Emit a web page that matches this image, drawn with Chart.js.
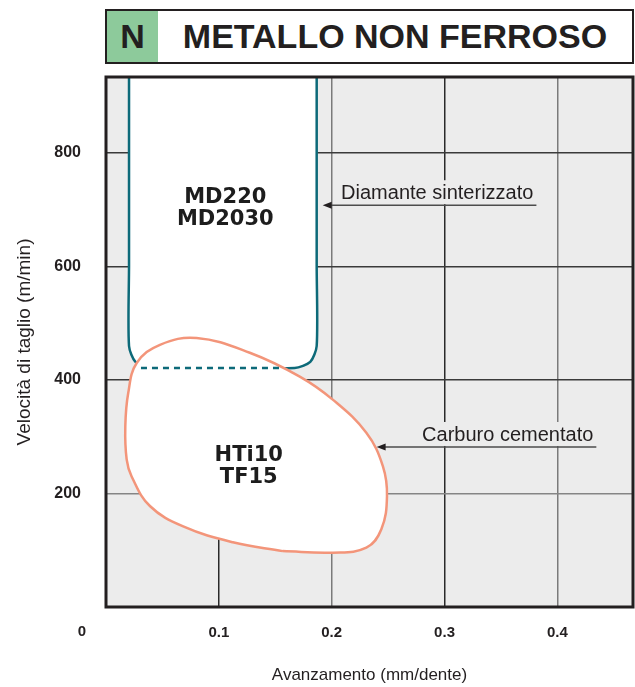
<!DOCTYPE html>
<html>
<head>
<meta charset="utf-8">
<script src="https://cdn.jsdelivr.net/npm/chart.js@4"></script>
<style>
  body { margin: 0; background: #ffffff; }
  #wrap { position: relative; width: 635px; height: 687px; }
  #chart { position: absolute; left: 0; top: 0; }
  #title {
    position: absolute; left: 105px; top: 9px; width: 529px; height: 55px;
    box-sizing: border-box; border: 2.5px solid #231f20; background: #fff;
    display: flex; font-family: "Liberation Sans", Arial, sans-serif; font-weight: bold;
    color: #231f20;
  }
  #title .badge {
    width: 51px; background: #8dca9b; font-size: 34px; line-height: 50px; text-align: center;
  }
  #title .txt {
    flex: 1; font-size: 34px; line-height: 50px; text-align: center;
  }
</style>
</head>
<body>
<div id="wrap">
  <canvas id="chart" width="635" height="687"></canvas>
  <div id="title"><span class="badge">N</span><span class="txt">METALLO NON FERROSO</span></div>
</div>
<script>
/* ===========================================
   DATA
=========================================== */

// Diamante sinterizzato area (open at the top, rounded bottom corners)
const diamondX = [0.0204, 0.0204, 0.0204, 0.0261, 0.0399, 0.1672, 0.181, 0.1867, 0.1867, 0.1867];
const diamondY = [990, 600, 460, 432, 421, 421, 432, 460, 600, 990];

// hidden bottom edge of the diamond area, drawn dashed
const hiddenX = [0.031, 0.157];
const hiddenY = [421, 421];

// Carburo cementato area (closed outline)
const carbideX = [0.1566, 0.2012, 0.2307, 0.244, 0.249, 0.2454, 0.2307, 0.2012, 0.1717, 0.1274,
                  0.0803, 0.0478, 0.0272, 0.0197, 0.0171, 0.0183, 0.0227, 0.0389, 0.0684, 0.1124, 0.1566];
const carbideY = [98.5, 95.7, 104.5, 137, 195, 248, 307, 365, 406, 448,
                  474, 462, 430, 377, 318, 260, 230, 178, 142, 114, 98.5];

const xTickValues = [0.1, 0.2, 0.3, 0.4];
const yTickValues = [200, 400, 600, 800];

const blockLabels = [
    { lines: ["MD220", "MD2030"], x: 0.1057, y: 702 },
    { lines: ["HTi10", "TF15"], x: 0.1265, y: 248 }
];

const callouts = [
    { text: "Diamante sinterizzato", from: 0.3814, to: 0.192, y: 708 },
    { text: "Carburo cementato", from: 0.4345, to: 0.2398, y: 282 }
];

const toPoints = (xs, ys) => xs.map((x, i) => ({ x: x, y: ys[i] }));

/* ===========================================
   COLOURS / FONTS
=========================================== */

const TEAL = "#0d6a79";
const SALMON = "#f3957a";
const INK = "#231f20";
const PLOT_BG = "#ececec";
const SANS = "'Liberation Sans', Arial, sans-serif";
const BLOCK = "'DejaVu Sans', sans-serif";

/* ===========================================
   PLUGIN: background, frame, labels
=========================================== */

const decorations = {

    id: "decorations",

    beforeDraw(chart) {
        const { ctx, chartArea: a } = chart;
        ctx.save();
        ctx.fillStyle = PLOT_BG;
        ctx.fillRect(a.left, a.top, a.width, a.height);
        ctx.restore();
    },

    afterDatasetsDraw(chart) {
        const { ctx } = chart;
        const xs = chart.scales.x;
        const ys = chart.scales.y;

        ctx.save();

        // block names
        ctx.fillStyle = "#1d1d1d";
        ctx.font = "bold 21px " + BLOCK;
        ctx.textAlign = "center";
        ctx.textBaseline = "middle";
        blockLabels.forEach(b => {
            const cx = xs.getPixelForValue(b.x);
            const cy = ys.getPixelForValue(b.y);
            const n = b.lines.length;
            b.lines.forEach((t, i) => {
                ctx.fillText(t, cx, cy + (i - (n - 1) / 2) * 22);
            });
        });

        // callouts with leader lines
        ctx.font = "20px " + SANS;
        callouts.forEach(c => {
            const x1 = xs.getPixelForValue(c.from);
            const x2 = xs.getPixelForValue(c.to);
            const y = ys.getPixelForValue(c.y);
            const w = ctx.measureText(c.text).width;

            ctx.fillStyle = PLOT_BG;
            ctx.fillRect(x1 - 3 - w - 3, y - 25, w + 6, 24);

            ctx.fillStyle = INK;
            ctx.textAlign = "right";
            ctx.textBaseline = "alphabetic";
            ctx.fillText(c.text, x1 - 3, y - 6);

            ctx.strokeStyle = "#4d4d4d";
            ctx.lineWidth = 1.5;
            ctx.beginPath();
            ctx.moveTo(x1, y);
            ctx.lineTo(x2 + 6, y);
            ctx.stroke();

            ctx.fillStyle = "#231f20";
            ctx.beginPath();
            ctx.moveTo(x2, y);
            ctx.lineTo(x2 + 9, y - 3.5);
            ctx.lineTo(x2 + 9, y + 3.5);
            ctx.closePath();
            ctx.fill();
        });

        ctx.restore();
    },

    afterDraw(chart) {
        const { ctx, chartArea: a } = chart;
        ctx.save();
        ctx.strokeStyle = INK;
        ctx.lineWidth = 3;
        ctx.strokeRect(a.left, a.top, a.width, a.height);

        // origin label sits at the corner, left of the axis
        ctx.fillStyle = INK;
        ctx.font = "bold 15px " + SANS;
        ctx.textAlign = "center";
        ctx.textBaseline = "middle";
        ctx.fillText("0", 82, 632);
        ctx.restore();
    }

};

/* ===========================================
   CHART
=========================================== */

const lineStyle = {
    showLine: true,
    pointRadius: 0,
    pointHoverRadius: 0,
    tension: 0.4
};

const gridColorX = ctx => {
    const v = Math.round(ctx.tick.value * 10);
    return v % 2 === 1 ? "#2a2a2a" : "#7a7a7a";
};

const gridColorY = ctx => {
    return ctx.tick.value === 200 ? "#858585" : "#3a3a3a";
};

const chart = new Chart(

    document.getElementById("chart"),

    {

        type: "scatter",

        data: {

            datasets: [

                {
                    ...lineStyle,
                    label: "Diamante sinterizzato",
                    data: toPoints(diamondX, diamondY),
                    borderColor: TEAL,
                    borderWidth: 2.5,
                    backgroundColor: "#ffffff",
                    fill: "shape",
                    tension: 0.25,
                    order: 3
                },

                {
                    ...lineStyle,
                    label: "Carburo cementato",
                    data: toPoints(carbideX, carbideY),
                    borderColor: SALMON,
                    borderWidth: 2.5,
                    backgroundColor: "#ffffff",
                    fill: "shape",
                    order: 2
                },

                {
                    ...lineStyle,
                    label: "hidden edge",
                    data: toPoints(hiddenX, hiddenY),
                    borderColor: TEAL,
                    borderWidth: 2.5,
                    borderDash: [6, 5],
                    fill: false,
                    tension: 0,
                    order: 1
                }

            ]

        },

        options: {

            responsive: false,

            animation: false,

            devicePixelRatio: 1,

            layout: {
                padding: { top: 77, right: 2, left: 0, bottom: 0 }
            },

            plugins: {
                legend: { display: false },
                tooltip: { enabled: false }
            },

            scales: {

                x: {
                    type: "linear",
                    min: 0,
                    max: 0.467,
                    afterFit(scale) { scale.height = 80; },
                    afterBuildTicks(scale) {
                        scale.ticks = [0].concat(xTickValues).map(v => ({ value: v }));
                    },
                    ticks: {
                        padding: 17,
                        color: INK,
                        font: { family: SANS, size: 15, weight: "bold" },
                        callback: v => (v === 0 ? "" : v.toFixed(1))
                    },
                    grid: {
                        drawTicks: false,
                        color: gridColorX,
                        lineWidth: 1.5
                    },
                    border: { display: false },
                    title: {
                        display: true,
                        text: "Avanzamento (mm/dente)",
                        color: INK,
                        font: { family: SANS, size: 17 },
                        padding: { top: 0, bottom: 1 }
                    }
                },

                y: {
                    type: "linear",
                    min: 0,
                    max: 934,
                    afterFit(scale) { scale.width = 106; },
                    afterBuildTicks(scale) {
                        scale.ticks = yTickValues.map(v => ({ value: v }));
                    },
                    ticks: {
                        padding: 25,
                        color: INK,
                        font: { family: SANS, size: 16, weight: "bold" }
                    },
                    grid: {
                        drawTicks: false,
                        color: gridColorY,
                        lineWidth: 1.5
                    },
                    border: { display: false },
                    title: {
                        display: true,
                        text: "Velocità di taglio (m/min)",
                        color: INK,
                        font: { family: SANS, size: 19 },
                        padding: { top: 13, bottom: 0 }
                    }
                }

            }

        },

        plugins: [decorations]

    }

);
</script>
</body>
</html>
